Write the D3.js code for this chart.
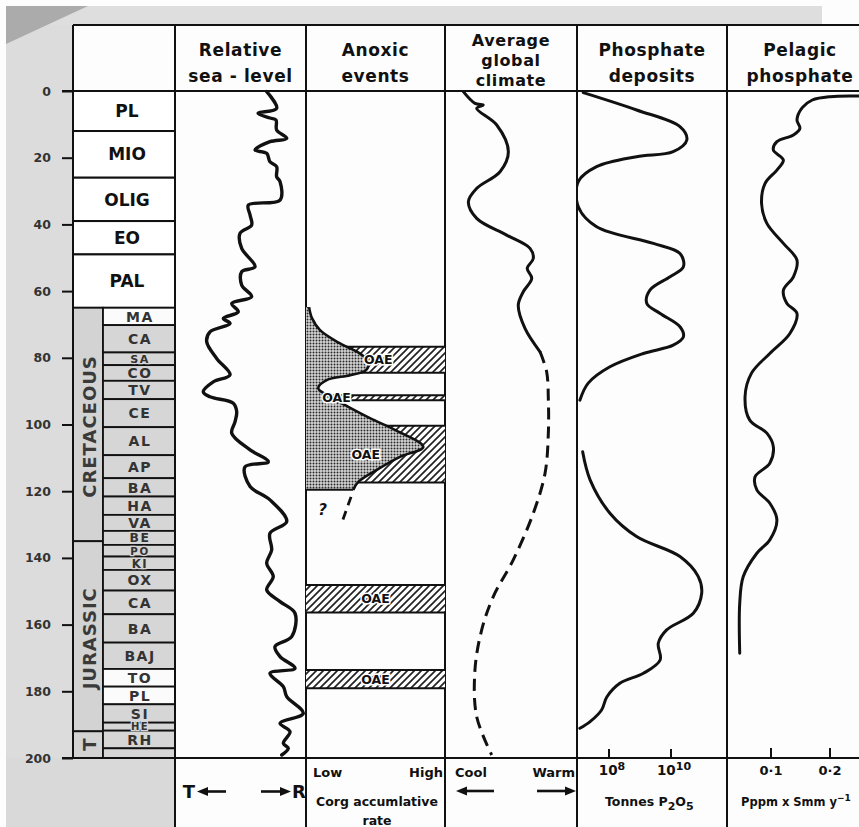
<!DOCTYPE html>
<html><head><meta charset="utf-8">
<script src="https://cdn.jsdelivr.net/npm/d3@7"></script>
<style>
html,body{margin:0;padding:0;background:#fff;}
svg{display:block;}
text{font-family:"DejaVu Sans",sans-serif;font-weight:bold;}
</style></head><body>
<svg id="c" width="859" height="827"></svg>
<script>
// ---------------- DATA ----------------
const ageTicks = [0,20,40,60,80,100,120,140,160,180,200];

const epochNames = ["PL","MIO","OLIG","EO","PAL"];
const epochBase  = [12,26,39,49,65];

const periodNames = ["CRETACEOUS","JURASSIC","T"];
const periodBase  = [135,192,200];

const stageNames = ["MA","CA","SA","CO","TV","CE","AL","AP","BA","HA","VA","BE","PO","KI","OX","CA","BA","BAJ","TO","PL","SI","HE","RH",""];
const stageBase  = [70.2,78.4,82.2,86.9,92.4,100.8,109.2,116.1,121.6,127.1,131.9,136.1,139.6,143.6,149.8,156.9,165.4,173.3,178.6,183.9,189.4,191.8,197.1,200];
const stageWhite = ["MA","TO","PL"];

const headers = [["Relative","sea - level"],["Anoxic","events"],["Average","global","climate"],["Phosphate","deposits"],["Pelagic","phosphate"]];

// Relative sea-level (0 = T side, 100 = R side)
const seaAge = [0.2,5.2,6.7,8.1,8.7,11.7,14.2,15.2,17.7,18.7,21.2,22.7,25.7,27.2,32.7,34.2,37.2,40.2,42.7,47.2,52.7,54.2,58.2,61.7,63.7,66.2,68.2,69.7,72.2,75.2,80.2,85.1,87.2,90.2,91.7,93.6,96.2,99.2,102.6,107.6,111.2,112.7,118.6,122.6,129.1,132.6,137.6,141.6,145.6,149.6,153.1,156.6,163.6,166.6,169.6,173.1,174.6,178.6,181.6,186.6,189.6,192.1,195.6,197.1,199.1];
const seaLevel = [70.0,77.6,63.4,72.5,77.1,77.6,85.3,72.5,61.1,70.0,72.5,77.6,77.6,80.2,80.2,56.0,57.3,58.5,49.6,50.9,61.1,50.9,50.9,58.5,43.3,48.3,36.9,42.0,26.7,24.2,31.8,42.0,29.2,21.6,26.7,44.5,47.1,45.8,43.3,57.3,71.2,53.4,57.3,72.5,85.3,72.5,73.8,70.0,75.0,70.0,80.2,91.6,89.1,76.3,80.2,91.6,72.5,82.7,85.3,97.9,80.2,87.8,82.7,86.5,81.5];

// Anoxic events: Corg accumulation rate (0 = Low, 100 = High)
const anoxAge  = [64.8,68.1,71.7,75.7,78.7,81.2,83.7,85.2,86.7,89.1,91.2,94.2,98.1,101.6,106.7,109.7,113.6,117.2,119.6];
const anoxRate = [2.2,4.3,10.1,24.5,38.8,44.8,43.2,31.7,14.9,8.8,14.9,28.1,46.0,64.0,84.4,67.6,50.9,37.6,34.0];
const anoxDashAge  = [121.7,130.1];
const anoxDashRate = [32.4,25.2];
const oaeTop  = [76.7,91.2,100.4,148.1,173.6];
const oaeBase = [84.5,92.7,117.4,156.4,179.1];
const oaeLabelRate = [52,22,43,50,50];

// Average global climate (0 = Cool, 100 = Warm)
const climSolidAge = [0.2,3.7,4.2,5.2,10.2,18.2,24.2,29.2,33.2,38.2,43.2,47.2,50.2,53.2,56.2,60.2,64.2,71.2,78.2];
const climSolid    = [13.9,22.7,29.0,24.0,39.2,48.0,41.7,24.0,17.7,24.0,46.7,64.4,66.9,62.3,65.7,59.3,55.5,60.6,72.0];
const climDashAge  = [78.2,84.2,92.7,102.5,114.6,126.6,140.6,151.6,161.6,173.6,187.6,199.1];
const climDash     = [72.0,77.0,78.3,78.3,75.8,66.9,51.7,36.6,27.8,22.7,24.0,35.4];

// Phosphate deposits (log10 tonnes P2O5)
const phosAge1 = [0.5,5.7,10.7,14.7,18.2,19.7,22.7,27.2,34.7,40.7,45.7,48.7,52.7,55.7,59.7,63.7,66.7,70.7,73.7,76.2,78.7,82.7,87.6,92.7];
const phosLog1 = [7.17,8.89,10.29,10.51,10.07,8.89,7.60,7.01,7.01,7.60,9.43,10.29,10.40,9.97,9.32,9.22,9.65,10.29,10.40,10.07,9.11,8.03,7.33,7.06];
const phosAge2 = [108.2,116.6,126.6,133.6,139.6,145.6,150.6,156.6,161.6,165.6,170.6,174.6,177.6,181.7,185.6,189.1,191.1];
const phosLog2 = [7.15,7.39,8.03,8.89,10.29,10.88,10.99,10.72,9.86,9.59,9.65,9.11,8.35,7.93,7.76,7.39,7.06];
const phosTicks = [1e8,1e10];

// Pelagic phosphate (P ppm x S mm/yr)
const pelAge = [1.6,1.7,2.7,5.0,8.7,11.2,13.2,15.2,17.7,20.7,23.7,27.7,33.7,39.7,45.7,50.7,55.7,59.7,63.7,66.7,72.7,78.7,84.6,91.7,98.7,102.6,106.7,111.6,115.7,119.6,123.6,128.6,134.6,138.6,145.6,153.6,168.6];
const pelVal = [0.27,0.20,0.17,0.153,0.144,0.149,0.138,0.110,0.104,0.121,0.110,0.090,0.084,0.093,0.121,0.144,0.138,0.121,0.127,0.144,0.132,0.098,0.067,0.056,0.064,0.093,0.104,0.098,0.073,0.076,0.098,0.110,0.098,0.076,0.053,0.047,0.047];
const pelTicks = [0.1,0.2];
const pelTickLabels = ["0·1","0·2"];

// ---------------- LAYOUT ----------------
const W = 859, H = 827;
const colX = [73,175,306,445,577,727,873];
const yTop = 25, yHead = 91, yBot = 758;
const INK = "#111";

const svg = d3.select("#c");
const age   = d3.scaleLinear().domain([0,200]).range([yHead,yBot]);
const xSea  = d3.scaleLinear().domain([0,100]).range([colX[1],colX[2]]);
const xAnox = d3.scaleLinear().domain([0,100]).range([colX[2],colX[3]]);
const xClim = d3.scaleLinear().domain([0,100]).range([colX[3],colX[4]]);
const xPhos = d3.scaleLog().domain([1e8,1e10]).range([609,671]);
const xPel  = d3.scaleLinear().domain([0.1,0.2]).range([771,830]);

// ---------------- BACKGROUND (scan paper) ----------------
svg.append("rect").attr("width",W).attr("height",H).attr("fill","#fdfdfd");
svg.append("rect").attr("x",6).attr("y",6).attr("width",colX[0]-6).attr("height",H).attr("fill","#dcdcdc");
svg.append("rect").attr("x",6).attr("y",6).attr("width",816).attr("height",yTop-6).attr("fill","#dedede");
svg.append("rect").attr("x",6).attr("y",yBot).attr("width",colX[1]-6).attr("height",H-yBot).attr("fill","#d9d9d9");
svg.append("path").attr("d","M6,6 L88,6 L6,44 Z").attr("fill","#ababab");

// ---------------- PATTERNS ----------------
const defs = svg.append("defs");
const hatch = defs.append("pattern").attr("id","hatch").attr("patternUnits","userSpaceOnUse").attr("width",7).attr("height",7);
hatch.append("rect").attr("width",7).attr("height",7).attr("fill","#fff");
hatch.append("path").attr("d","M-1,1 L1,-1 M0,7 L7,0 M6,8 L8,6").attr("stroke","#222").attr("stroke-width",1.7);
const dots = defs.append("pattern").attr("id","dots").attr("patternUnits","userSpaceOnUse").attr("width",3).attr("height",3);
dots.append("rect").attr("width",3).attr("height",3).attr("fill","#d6d6d6");
dots.append("circle").attr("cx",1.5).attr("cy",1.5).attr("r",1.0).attr("fill","#2a2a2a");

// ---------------- STRATIGRAPHIC COLUMN ----------------
const strat = svg.append("g");
epochNames.forEach((n,i)=>{
  const t = i===0 ? 0 : epochBase[i-1], b = epochBase[i];
  strat.append("rect").attr("x",colX[0]).attr("y",age(t)).attr("width",colX[1]-colX[0]).attr("height",age(b)-age(t))
    .attr("fill","#fff").attr("stroke",INK).attr("stroke-width",2);
  strat.append("text").attr("x",(colX[0]+colX[1])/2+3).attr("y",(age(t)+age(b))/2).attr("dy","0.36em")
    .attr("text-anchor","middle").attr("font-size",17).attr("fill",INK).text(n);
});
const bandR = 103;
periodNames.forEach((n,i)=>{
  const t = i===0 ? epochBase[epochBase.length-1] : periodBase[i-1], b = periodBase[i];
  strat.append("rect").attr("x",colX[0]).attr("y",age(t)).attr("width",bandR-colX[0]).attr("height",age(b)-age(t))
    .attr("fill","#d3d3d3").attr("stroke",INK).attr("stroke-width",1.8);
  const cx = (colX[0]+bandR)/2+2, cy = (age(t)+age(b))/2 + (n.length>1?2:0);
  strat.append("text").attr("transform",`translate(${cx},${cy}) rotate(-90)`).attr("dy","0.36em")
    .attr("text-anchor","middle").attr("font-size",18).attr("letter-spacing",n.length>1?1:0).attr("fill","#3a3a3a").text(n);
});
stageNames.forEach((n,i)=>{
  const t = i===0 ? epochBase[epochBase.length-1] : stageBase[i-1], b = stageBase[i];
  const fill = stageWhite.includes(n) ? "#fbfbfb" : "#d6d6d6";
  strat.append("rect").attr("x",bandR).attr("y",age(t)).attr("width",colX[1]-bandR).attr("height",age(b)-age(t))
    .attr("fill",fill).attr("stroke",INK).attr("stroke-width",1.8);
});
stageNames.forEach((n,i)=>{
  if(!n) return;
  const t = i===0 ? epochBase[epochBase.length-1] : stageBase[i-1], b = stageBase[i];
  const h = age(b)-age(t);
  const fs = Math.max(10, Math.min(14, h*0.88));
  const fill = stageWhite.includes(n) ? "#fbfbfb" : "#d6d6d6";
  strat.append("text").attr("x",(bandR+colX[1])/2+1).attr("y",(age(t)+age(b))/2).attr("dy","0.37em")
    .attr("text-anchor","middle").attr("font-size",fs).attr("letter-spacing",1.5).attr("fill","#333")
    .attr("stroke",fill).attr("stroke-width",2.5).attr("paint-order","stroke").text(n);
});

// ---------------- FRAME ----------------
const frame = svg.append("g").attr("stroke",INK).attr("stroke-width",2);
frame.append("line").attr("x1",colX[0]).attr("x2",W).attr("y1",yTop).attr("y2",yTop);
frame.append("line").attr("x1",62).attr("x2",W).attr("y1",yHead).attr("y2",yHead);
frame.append("line").attr("x1",62).attr("x2",W).attr("y1",yBot).attr("y2",yBot);
frame.append("line").attr("x1",colX[0]).attr("x2",colX[0]).attr("y1",yTop).attr("y2",yBot);
colX.slice(1,6).forEach(x=>frame.append("line").attr("x1",x).attr("x2",x).attr("y1",yTop).attr("y2",H));

// ---------------- AGE AXIS ----------------
const ax = svg.append("g").attr("transform",`translate(${colX[0]},0)`)
  .call(d3.axisLeft(age).tickValues(ageTicks).tickSize(11).tickPadding(11));
ax.select(".domain").remove();
ax.selectAll(".tick line").attr("stroke",INK).attr("stroke-width",2);
ax.selectAll(".tick text").attr("font-family","DejaVu Sans").attr("font-weight","bold").attr("font-size",12.5).attr("fill","#333");

// ---------------- HEADERS ----------------
headers.forEach((lines,i)=>{
  const cx = (colX[i+1]+colX[i+2])/2;
  const base = lines.length===3 ? [46,66,86] : [56,82];
  lines.forEach((s,j)=>{
    svg.append("text").attr("x",cx).attr("y",base[j]).attr("text-anchor","middle")
      .attr("font-size",lines.length===3?16:17).attr("letter-spacing",0.6).attr("fill",INK).text(s);
  });
});

// ---------------- ANOXIC EVENTS ----------------
const anox = svg.append("g");
oaeTop.forEach((t,i)=>{
  anox.append("rect").attr("x",colX[2]).attr("y",age(t)).attr("width",colX[3]-colX[2]).attr("height",age(oaeBase[i])-age(t))
    .attr("fill","url(#hatch)");
  [t,oaeBase[i]].forEach(a=>anox.append("line").attr("x1",colX[2]).attr("x2",colX[3]).attr("y1",age(a)).attr("y2",age(a))
    .attr("stroke",INK).attr("stroke-width",2));
});
const anoxPts = anoxAge.map((a,i)=>[xAnox(anoxRate[i]),age(a)]);
const cr = d3.line().curve(d3.curveCatmullRom.alpha(0.5));
const a0 = anoxAge[0], a1 = anoxAge[anoxAge.length-1];
const stipD = cr(anoxPts) + `L${xAnox(0)},${age(a1)}L${xAnox(0)},${age(a0)}Z`;
anox.append("path").attr("d",stipD).attr("fill","#fff");
anox.append("path").attr("d",stipD).attr("fill","url(#dots)");
anox.append("path").attr("d",cr(anoxPts)).attr("fill","none").attr("stroke",INK).attr("stroke-width",2.6).attr("stroke-linejoin","round");
anox.append("line").attr("x1",xAnox(0)).attr("x2",xAnox(anoxRate[anoxRate.length-1])).attr("y1",age(a1)).attr("y2",age(a1))
  .attr("stroke",INK).attr("stroke-width",2);
anox.append("path").attr("d",d3.line()(anoxDashAge.map((a,i)=>[xAnox(anoxDashRate[i]),age(a)])))
  .attr("stroke",INK).attr("stroke-width",2.8).attr("stroke-dasharray","9,6").attr("fill","none");
anox.append("text").attr("x",xAnox(12)).attr("y",age(125.5)).attr("dy","0.36em").attr("text-anchor","middle")
  .attr("font-size",15).attr("font-style","italic").attr("fill",INK).text("?");
oaeTop.forEach((t,i)=>{
  anox.append("text").attr("x",xAnox(oaeLabelRate[i])).attr("y",(age(t)+age(oaeBase[i]))/2).attr("dy","0.36em")
    .attr("text-anchor","middle").attr("font-size",12.5).attr("fill",INK)
    .attr("stroke","#fff").attr("stroke-width",3).attr("paint-order","stroke").text("OAE");
});

// ---------------- CURVES ----------------
const curveStyle = (p,w)=>p.attr("fill","none").attr("stroke",INK).attr("stroke-width",w)
  .attr("stroke-linejoin","round").attr("stroke-linecap","round");

curveStyle(svg.append("path").attr("d",cr(seaAge.map((a,i)=>[xSea(seaLevel[i]),age(a)]))),3.4);

curveStyle(svg.append("path").attr("d",cr(climSolidAge.map((a,i)=>[xClim(climSolid[i]),age(a)]))),3);
curveStyle(svg.append("path").attr("d",cr(climDashAge.map((a,i)=>[xClim(climDash[i]),age(a)]))),3)
  .attr("stroke-linecap","butt").attr("stroke-dasharray","12,7");

const clipP = defs.append("clipPath").attr("id","clipPhos");
clipP.append("rect").attr("x",colX[4]+1).attr("y",yHead).attr("width",colX[5]-colX[4]-2).attr("height",yBot-yHead);
const gPhos = svg.append("g").attr("clip-path","url(#clipPhos)");
curveStyle(gPhos.append("path").attr("d",cr(phosAge1.map((a,i)=>[xPhos(Math.pow(10,phosLog1[i])),age(a)]))),3);
curveStyle(gPhos.append("path").attr("d",cr(phosAge2.map((a,i)=>[xPhos(Math.pow(10,phosLog2[i])),age(a)]))),3);

curveStyle(svg.append("path").attr("d",cr(pelAge.map((a,i)=>[xPel(pelVal[i]),age(a)]))),3);

// ---------------- FOOTERS ----------------
const foot = svg.append("g").attr("fill",INK);
function arrow(x1,x2,y){ // tip at x2
  const dir = Math.sign(x2-x1);
  foot.append("line").attr("x1",x1).attr("x2",x2-dir*8).attr("y1",y).attr("y2",y).attr("stroke",INK).attr("stroke-width",2.6);
  foot.append("path").attr("d",`M${x2},${y}L${x2-dir*11},${y-4.5}L${x2-dir*11},${y+4.5}Z`);
}
foot.append("text").attr("x",189).attr("y",798).attr("text-anchor","middle").attr("font-size",18).text("T");
arrow(226,197,791.5);
arrow(261,291,791.5);
foot.append("text").attr("x",299).attr("y",798).attr("text-anchor","middle").attr("font-size",18).text("R");

foot.append("text").attr("x",313).attr("y",777).attr("font-size",13).text("Low");
foot.append("text").attr("x",443).attr("y",777).attr("text-anchor","end").attr("font-size",13).text("High");
foot.append("text").attr("x",377).attr("y",806).attr("text-anchor","middle").attr("font-size",12.5).text("Corg accumlative");
foot.append("text").attr("x",377).attr("y",825).attr("text-anchor","middle").attr("font-size",12.5).text("rate");

foot.append("text").attr("x",455).attr("y",777).attr("font-size",13).text("Cool");
foot.append("text").attr("x",575).attr("y",777).attr("text-anchor","end").attr("font-size",13).text("Warm");
arrow(494,456,791);
arrow(537,576,791);

phosTicks.forEach(v=>{
  const x = xPhos(v);
  foot.append("line").attr("x1",x).attr("x2",x).attr("y1",yBot-9).attr("y2",yBot).attr("stroke",INK).attr("stroke-width",2);
  const t = foot.append("text").attr("x",x+3).attr("y",775).attr("text-anchor","middle").attr("font-size",13.5);
  t.append("tspan").text("10");
  t.append("tspan").attr("dy",-5).attr("font-size",11).text(String(Math.round(Math.log10(v))));
});
const tp = foot.append("text").attr("x",605).attr("y",806).attr("font-size",12.5);
tp.append("tspan").text("Tonnes  P");
tp.append("tspan").attr("dy",4).attr("font-size",11).text("2");
tp.append("tspan").attr("dy",-4).text("O");
tp.append("tspan").attr("dy",4).attr("font-size",11).text("5");

pelTicks.forEach((v,i)=>{
  const x = xPel(v);
  foot.append("line").attr("x1",x).attr("x2",x).attr("y1",yBot-10).attr("y2",yBot).attr("stroke",INK).attr("stroke-width",2);
  foot.append("text").attr("x",x).attr("y",775).attr("text-anchor","middle").attr("font-size",13).text(pelTickLabels[i]);
});
const pp = foot.append("text").attr("x",741).attr("y",806).attr("font-size",11.5);
pp.append("tspan").text("Pppm x Smm y");
pp.append("tspan").attr("dy",-5).attr("font-size",9).text("−1");
</script>
</body></html>
